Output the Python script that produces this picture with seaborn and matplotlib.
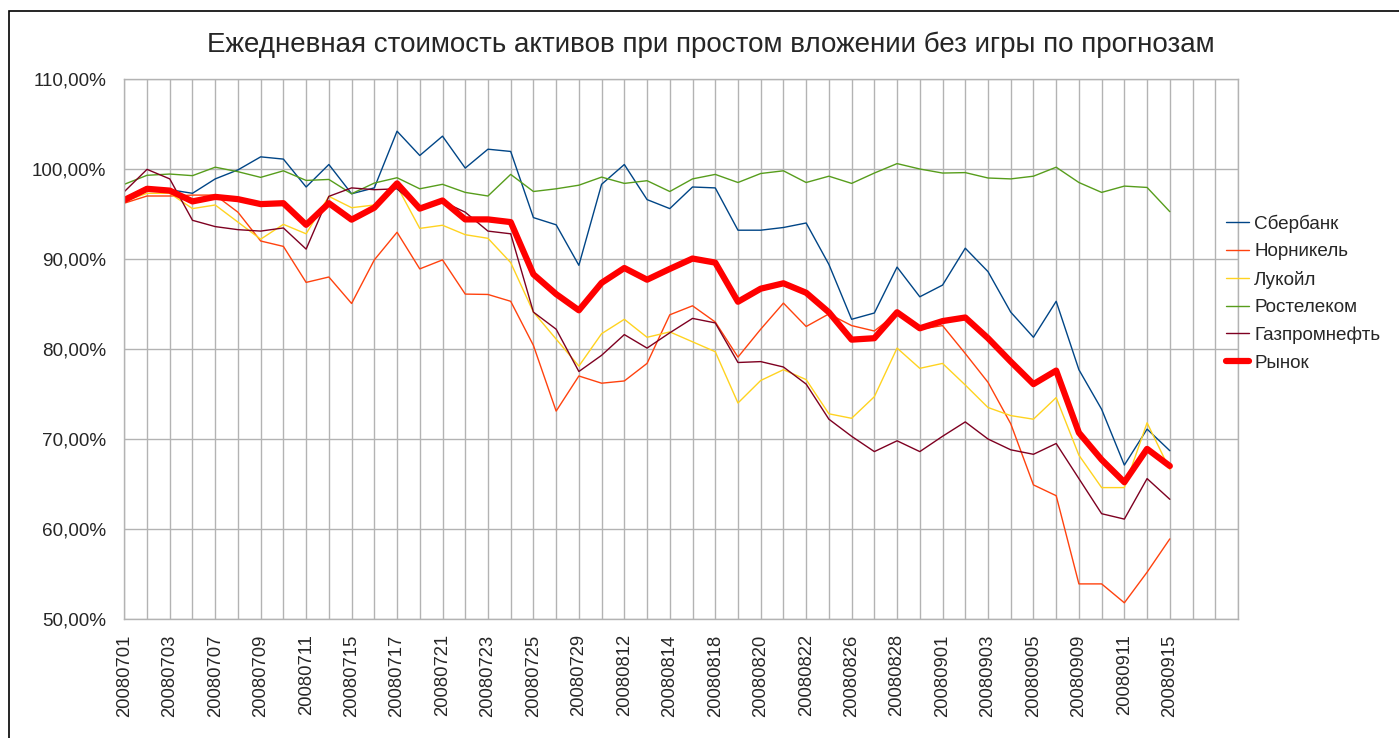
import numpy as np
import pandas as pd
import matplotlib
matplotlib.use('Agg')
import matplotlib.pyplot as plt
from matplotlib.ticker import FuncFormatter, FixedLocator
from matplotlib.patches import Rectangle
import seaborn as sns

# trading days (two trailing empty categories)
dates = ['20080701', '20080702', '20080703', '20080704', '20080707', '20080708',
         '20080709', '20080710', '20080711', '20080714', '20080715', '20080716',
         '20080717', '20080718', '20080721', '20080722', '20080723', '20080724',
         '20080725', '20080728', '20080729', '20080811', '20080812', '20080813',
         '20080814', '20080815', '20080818', '20080819', '20080820', '20080821',
         '20080822', '20080825', '20080826', '20080827', '20080828', '20080829',
         '20080901', '20080902', '20080903', '20080904', '20080905', '20080908',
         '20080909', '20080910', '20080911', '20080912', '20080915', '', '']

# values in percent
sber = [96.4, 97.6, 97.7, 97.3, 98.9, 99.9, 101.35, 101.1, 98.0, 100.5, 97.25, 97.9,
        104.2, 101.5, 103.65, 100.1, 102.2, 101.95, 94.6, 93.8, 89.3, 98.3, 100.5, 96.6,
        95.6, 98.0, 97.9, 93.2, 93.2, 93.5, 94.0, 89.4, 83.3, 84.0, 89.1, 85.8, 87.1,
        91.2, 88.6, 84.1, 81.3, 85.3, 77.7, 73.3, 67.1, 71.1, 68.7]
nornikel = [96.2, 97.0, 97.0, 97.1, 97.1, 95.2, 92.0, 91.4, 87.4, 88.0, 85.06, 89.9,
            92.97, 88.9, 89.9, 86.1, 86.06, 85.3, 80.4, 73.1, 77.0, 76.2, 76.45, 78.4,
            83.8, 84.8, 83.0, 79.1, 82.2, 85.1, 82.5, 83.9, 82.6, 82.0, 84.0, 82.2, 82.6,
            79.5, 76.3, 71.7, 64.9, 63.7, 53.9, 53.9, 51.8, 55.2, 58.9]
lukoil = [96.4, 97.3, 97.3, 95.6, 96.0, 94.1, 92.2, 93.85, 92.8, 96.96, 95.7, 96.0,
          98.1, 93.4, 93.75, 92.7, 92.3, 89.6, 84.1, 81.1, 78.1, 81.7, 83.3, 81.3,
          81.9, 80.8, 79.7, 74.0, 76.5, 77.7, 76.6, 72.8, 72.3, 74.7, 80.1, 77.85, 78.4,
          76.0, 73.5, 72.6, 72.2, 74.6, 68.2, 64.6, 64.6, 71.8, 66.6]
rostelecom = [98.3, 99.3, 99.44, 99.26, 100.2, 99.7, 99.07, 99.8, 98.73, 98.84, 97.25,
              98.44, 99.03, 97.8, 98.3, 97.4, 97.0, 99.4, 97.5, 97.8, 98.2, 99.1, 98.4,
              98.7, 97.5, 98.9, 99.4, 98.5, 99.5, 99.8, 98.5, 99.2, 98.4, 99.55, 100.6,
              100.0, 99.55, 99.6, 99.0, 98.9, 99.2, 100.2, 98.5, 97.4, 98.1, 97.95, 95.26]
gazprom = [97.48, 99.96, 98.9, 94.3, 93.6, 93.26, 93.1, 93.45, 91.1, 96.96, 97.9, 97.7,
           97.8, 95.6, 96.4, 95.2, 93.1, 92.8, 84.1, 82.2, 77.5, 79.3, 81.6, 80.1,
           81.8, 83.4, 82.9, 78.5, 78.6, 78.0, 76.1, 72.2, 70.3, 68.6, 69.8, 68.6, 70.3,
           71.9, 70.0, 68.8, 68.3, 69.5, 65.6, 61.7, 61.1, 65.6, 63.3]
market = [96.55, 97.8, 97.6, 96.4, 96.9, 96.65, 96.1, 96.2, 93.8, 96.2, 94.37, 95.7,
          98.4, 95.6, 96.5, 94.4, 94.4, 94.1, 88.3, 86.1, 84.3, 87.35, 89.0, 87.7,
          88.9, 90.05, 89.6, 85.25, 86.7, 87.3, 86.25, 84.08, 81.04, 81.2, 84.08, 82.3,
          83.1, 83.5, 81.2, 78.6, 76.1, 77.6, 70.7, 67.7, 65.2, 68.9, 67.0]

series_names = ['Сбербанк', 'Норникель', 'Лукойл', 'Ростелеком', 'Газпромнефть', 'Рынок']
series_values = [sber, nornikel, lukoil, rostelecom, gazprom, market]
colors = ['#004586', '#ff420e', '#ffd320', '#579d1c', '#7e0021', '#ff0000']
widths = [1.0, 1.0, 1.0, 1.0, 1.0, 4.5]

sns.set_style('white')
plt.rcParams['font.family'] = ['Liberation Sans', 'DejaVu Sans']

fig = plt.figure(figsize=(13.99, 7.38), dpi=100)
ax = fig.add_axes([124.3 / 1399, 1 - 619 / 738, (1238 - 124.3) / 1399, (619 - 79) / 738])

n = len(sber)
for name, vals, col, lw in zip(series_names, series_values, colors, widths):
    sns.lineplot(x=np.arange(n), y=np.array(vals) / 100, ax=ax, color=col,
                 linewidth=lw, label=name)

ax.set_xlim(0, len(dates))
ax.set_ylim(0.5, 1.1)
ax.yaxis.set_major_locator(FixedLocator(np.arange(0.5, 1.101, 0.1)))
ax.yaxis.set_major_formatter(FuncFormatter(lambda v, p: f'{v * 100:.2f}%'.replace('.', ',')))
ax.xaxis.set_major_locator(FixedLocator(np.arange(len(dates) + 1)))
ax.set_xticklabels([d if i % 2 == 0 else '' for i, d in enumerate(dates + [''])],
                   rotation=90, fontsize=13.3)
ax.tick_params(axis='y', labelsize=13.6, length=7, width=1, color='#b3b3b3', pad=6)
ax.tick_params(axis='x', length=7, width=1, color='#b3b3b3', pad=4)
ax.set_xlabel('')
ax.set_ylabel('')
ax.grid(True, color='#b3b3b3', linewidth=1)
ax.set_axisbelow(True)
for s in ax.spines.values():
    s.set_color('#b3b3b3')
    s.set_linewidth(1)

ax.legend(loc='center left', bbox_to_anchor=(1226 / 1399, 1 - 293 / 738),
          bbox_transform=fig.transFigure, frameon=False, fontsize=13.6,
          handlelength=1.2, handletextpad=0.3, labelspacing=0.55,
          borderpad=0, borderaxespad=0)

fig.text(0.508, 1 - 45 / 738,
         'Ежедневная стоимость активов при простом вложении без игры по прогнозам',
         ha='center', va='center', fontsize=20)

fig.patches.append(Rectangle((9 / 1399, -0.05), 1.2, 1 - 11 / 738 + 0.05,
                             transform=fig.transFigure, fill=False,
                             edgecolor='black', linewidth=1.2))

fig.savefig('out.png', dpi=100)
